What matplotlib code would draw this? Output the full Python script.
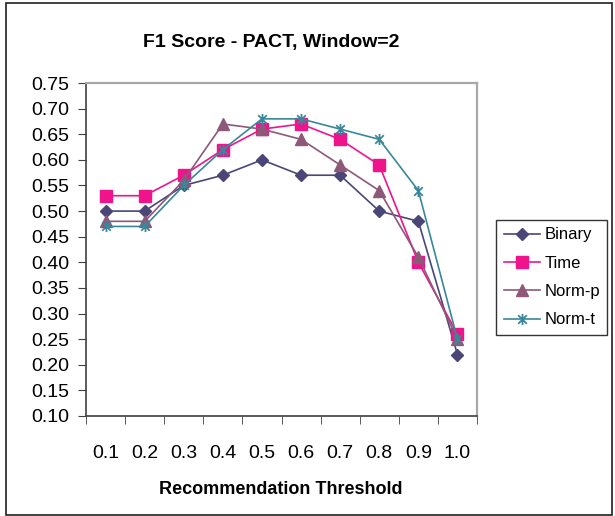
import numpy as np, matplotlib
matplotlib.use("Agg")
import matplotlib.pyplot as plt
from matplotlib.path import Path
from matplotlib.patches import Rectangle

plt.rcParams['font.family'] = ['Liberation Sans', 'DejaVu Sans']

thresholds = ["0.1", "0.2", "0.3", "0.4", "0.5", "0.6", "0.7", "0.8", "0.9", "1.0"]
binary = [0.50, 0.50, 0.55, 0.57, 0.60, 0.57, 0.57, 0.50, 0.48, 0.22]
time_ = [0.53, 0.53, 0.57, 0.62, 0.66, 0.67, 0.64, 0.59, 0.40, 0.26]
norm_p = [0.48, 0.48, 0.56, 0.67, 0.66, 0.64, 0.59, 0.54, 0.41, 0.25]
norm_t = [0.47, 0.47, 0.55, 0.62, 0.68, 0.68, 0.66, 0.64, 0.54, 0.25]
yticks = [0.10, 0.15, 0.20, 0.25, 0.30, 0.35, 0.40, 0.45, 0.50, 0.55, 0.60, 0.65, 0.70, 0.75]

# excel-style star: x with a vertical bar
star = Path([(-1, -1), (1, 1), (-1, 1), (1, -1), (0, -1.3), (0, 1.3)],
            [Path.MOVETO, Path.LINETO] * 3)

W, H = 615, 516
fig = plt.figure(figsize=(W / 100, H / 100), dpi=100)
fig.patches.append(Rectangle((6 / W, 1 / H), 606 / W, 512 / H, transform=fig.transFigure,
                             fill=False, ec='#202020', lw=1.2))
ax = fig.add_axes([86 / W, 1 - 416 / H, (477 - 86) / W, (416 - 83) / H])
x = np.arange(len(thresholds))

series = [
    ("Binary", binary, '#4A4678', dict(marker='D', ms=6)),
    ("Time", time_, '#F0148C', dict(marker='s', ms=8)),
    ("Norm-p", norm_p, '#8E5878', dict(marker='^', ms=8)),
    ("Norm-t", norm_t, '#3A879A', dict(marker=star, ms=8, mew=1.3, mfc='none')),
]
for name, vals, col, mk in series:
    ax.plot(x, vals, color=col, lw=1.2, label=name, mec=col, **mk)

ax.set_xlim(-0.5, 9.5)
ax.set_ylim(0.10, 0.75)
ax.set_yticks(yticks)
ax.set_yticklabels([f"{v:.2f}" for v in yticks])
ax.set_xticks(x)
ax.set_xticklabels(thresholds)
ax.set_xticks(np.arange(-0.5, 10, 1), minor=True)
ax.tick_params(axis='x', which='major', length=0, pad=21, labelsize=14)
ax.tick_params(axis='x', which='minor', length=6, direction='out', color='#404040')
ax.tick_params(axis='y', length=6, direction='out', pad=6, labelsize=14, color='#404040')
for s in ('left', 'bottom'):
    ax.spines[s].set_color('#404040'); ax.spines[s].set_linewidth(1.2)
for s in ('top', 'right'):
    ax.spines[s].set_color('#A8A8A8'); ax.spines[s].set_linewidth(1.6)

fig.text(271 / W, 1 - 42 / H, "F1 Score - PACT, Window=2", ha='center', va='center',
         fontsize=14, fontweight='bold')
fig.text(281 / W, 1 - 490 / H, "Recommendation Threshold", ha='center', va='center',
         fontsize=13, fontweight='bold')

leg = fig.legend(loc='upper left', bbox_to_anchor=(496 / W, 1 - 220 / H), fontsize=12,
                 frameon=True, fancybox=False, edgecolor='black', handlelength=2.2,
                 handletextpad=0.25, labelspacing=0.8, borderpad=0.45, borderaxespad=0)
leg.get_frame().set_linewidth(1.0)

fig.savefig("out.png", dpi=100)
